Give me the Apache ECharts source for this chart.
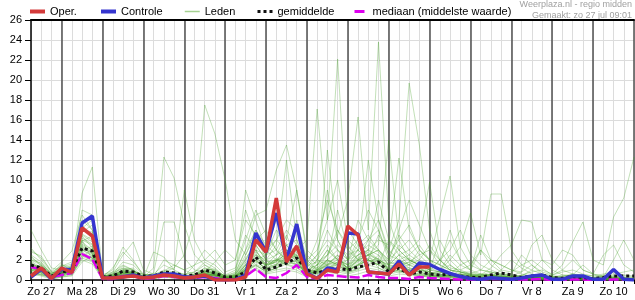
<!DOCTYPE html>
<html><head><meta charset="utf-8">
<script src="https://cdn.jsdelivr.net/npm/echarts@6/dist/echarts.min.js"></script>
<style>html,body{margin:0;padding:0;background:#fff}#c{width:635px;height:300px}</style>
</head><body><div id="c"></div>
<script>
const dayNames = ['Zo 27','Ma 28','Di 29','Wo 30','Do 31','Vr 1','Za 2','Zo 3','Ma 4','Di 5','Wo 6','Do 7','Vr 8','Za 9','Zo 10','Ma 11'];
const hours = ['00:00','06:00','12:00','18:00'];
const times = [];
for (let k = 1; k <= 60; k++) times.push(dayNames[Math.floor(k / 4)] + ' ' + hours[k % 4]);

const yTicks = {min: 0, max: 26, step: 2};

const oper = [0.4,1.2,0.15, 1.2,0.75,5.2,4.4, 0.2,0.2,0.3,0.4, 0.2,0.3,0.5,0.4, 0.2,0.3,0.5,0, 0,0,0.3,4.0, 2.8,8.2,1.8,3.4, 0.6,0.15,1.0,0.8, 5.4,4.5,0.8,0.7, 0.6,1.6,0.5,1.3, 1.3];
const controle = [0.3,1.1,0.1, 1.1,1.0,5.7,6.4, 0.2,0.2,0.3,0.5, 0.2,0.4,0.6,0.6, 0.3,0.3,0.4,0.05, 0,0.05,0.5,4.7, 2.8,6.7,2.0,5.6, 0.7,0.15,1.2,1.0, 4.7,4.6,0.8,0.7, 0.6,1.9,0.5,1.7, 1.55,1.05,0.65,0.35, 0.15,0.07,0.22,0.15, 0.07,0.2,0.4,0.5, 0.07,0.07,0.4,0.4, 0.07,0.07,1.05,0.07, 0];
const gemiddelde = [1.5,1.2,0.4, 0.8,1.0,3.2,2.9, 0.3,0.4,0.9,0.8, 0.4,0.4,0.8,0.7, 0.4,0.5,1.0,0.7, 0.3,0.3,0.8,2.3, 1.0,1.3,1.7,2.2, 1.0,0.7,1.0,1.2, 1.0,1.3,1.5,1.8, 0.8,1.2,0.6,0.8, 0.6,0.5,0.6,0.4, 0.27,0.23,0.5,0.7, 0.5,0.25,0.4,0.5, 0.25,0.17,0.35,0.25, 0.13,0.25,0.4,0.4, 0.4];
const mediaan = [1.3,1.1,0.3, 0.5,0.7,2.6,2.1, 0.1,0.1,0.4,0.4, 0.1,0.2,0.4,0.3, 0.2,0.2,0.3,0.2, 0.05,0.05,0.4,1.1, 0.3,0.2,0.7,1.5, 0.3,0.15,0.5,0.4, 0.3,0.25,0.5,0.3, 0.2,0.2,0.1,0.3, 0.2,0.15,0.1,0.05, 0.05,0.05,0.1,0.1, 0.05,0.05,0.05,0.1, 0,0,0.05,0.05, 0,0,0.05,0.05, 0.05];

const m01 = [5.0,3.0,1.2, 1.0,1.5,4.0,3.5, 0.5,0.8,1.5,1.0, 0.3,0.2,0.5,0.4, 0.3,0.5,1.0,0.8, 0.2,0.3,1.5,3.0, 1.5,2.5,3.0,1.8, 0.5,1.0,2.0,3.0, 1.5,2.0,2.5,1.2, 0.8,1.5,1.0,0.8, 0.5,0.6,0.4,0.3, 0.2,0.4,0.6,0.3, 0.2,0.4,0.3,0.2, 0.1,0.2,0.3,0.1, 0.1,0.2,0.3,0.2, 0.1];
const m02 = [3.2,2.0,0.8, 0.6,1.2,8.7,11.3, 0.4,0.5,1.0,0.7, 0.2,0.3,0.4,0.3, 0.2,0.3,0.6,0.4, 0.1,0.2,0.8,1.5, 0.8,1.2,2.0,2.5, 0.8,0.6,1.2,1.5, 0.8,1.0,1.8,2.2, 1.0,0.8,0.6,0.5, 0.4,0.3,0.2,0.2, 0.1,0.1,0.2,0.1, 0.1,0.2,0.1,0.1, 0.0,0.1,0.2,0.1, 0.1,0.1,0.2,0.1, 0.1];
const m03 = [1.5,1.2,0.3, 0.8,0.6,3.5,2.8, 0.2,0.3,0.6,0.5, 0.3,1.2,12.3,10.2, 5.5,2.5,1.5,0.8, 0.3,0.5,2.0,3.5, 2.0,1.5,2.5,2.0, 0.6,0.8,1.5,1.0, 0.8,1.2,1.5,2.0, 1.2,0.9,0.7,0.5, 0.4,0.3,0.5,0.3, 0.2,0.1,0.3,0.4, 0.2,0.1,0.2,0.3, 0.1,0.1,0.0,0.1, 0.0,0.1,0.1,0.2, 0.2];
const m04 = [1.0,0.8,0.5, 0.5,0.9,4.5,3.8, 0.3,0.6,1.2,0.9, 0.4,0.3,0.8,1.2, 2.5,6.0,17.5,14.6, 10.0,4.0,2.5,5.0, 3.0,2.0,1.5,1.2, 0.6,0.8,1.0,1.8, 1.0,1.5,2.0,1.5, 0.8,1.0,0.6,0.4, 0.3,0.5,0.4,0.2, 0.3,0.2,0.1,0.2, 0.1,0.2,0.3,0.2, 0.1,0.0,0.1,0.1, 0.1,0.0,0.1,0.1, 0.0];
const m05 = [2.0,1.5,0.4, 0.7,1.0,5.5,4.2, 0.1,0.2,0.8,0.6, 0.2,0.4,0.6,0.5, 0.3,0.4,1.2,0.9, 0.4,0.8,3.0,6.5, 7.0,11.0,13.5,9.0, 2.5,1.5,3.0,2.0, 1.2,2.5,3.5,2.8, 1.5,1.2,0.9,0.6, 0.5,0.4,0.3,0.6, 0.4,0.3,0.2,0.1, 0.1,0.1,0.2,0.3, 0.2,0.1,0.1,0.1, 0.0,0.1,0.0,0.1, 0.1];
const m06 = [1.2,0.9,0.2, 0.9,0.5,2.5,2.0, 0.2,0.4,0.7,0.4, 0.2,0.2,0.4,0.6, 0.4,0.3,0.8,0.7, 0.2,0.3,1.2,2.0, 1.0,2.0,1.8,3.0, 4.0,17.1,6.0,22.1, 5.0,3.5,2.5,3.0, 1.8,1.5,1.0,1.2, 0.6,0.8,0.5,0.4, 0.3,0.2,0.5,0.3, 0.2,0.3,0.2,0.1, 0.1,0.2,0.1,0.2, 0.1,0.1,0.2,0.1, 0.1];
const m07 = [0.8,0.6,0.3, 0.6,0.8,3.0,2.5, 0.3,0.2,0.5,0.8, 0.3,0.4,0.3,0.5, 0.2,0.5,0.7,0.5, 0.3,0.2,1.0,2.5, 1.5,1.8,3.5,2.2, 1.0,1.5,2.5,4.5, 8.0,16.3,5.0,23.8, 6.0,3.0,2.0,1.5, 1.0,0.8,0.5,0.6, 0.3,0.4,0.3,0.2, 0.2,0.1,0.2,0.2, 0.1,0.1,0.2,0.1, 0.1,0.0,0.1,0.2, 0.1];
const m08 = [1.8,1.0,0.6, 1.2,0.7,2.2,1.8, 0.2,0.5,0.9,0.6, 0.3,0.3,0.5,0.4, 0.3,0.4,0.9,0.6, 0.2,0.4,1.5,2.5, 2.0,1.0,2.5,3.5, 1.5,1.2,2.0,1.5, 2.0,2.5,3.0,4.0, 3.5,12.2,5.0,3.0, 2.0,1.5,1.0,0.8, 0.8,0.5,0.4,0.3, 0.3,0.2,0.2,0.3, 0.2,0.1,0.1,0.2, 0.1,0.1,0.1,0.1, 0.1];
const m09 = [0.9,1.4,0.5, 0.4,1.1,6.0,5.0, 0.4,0.3,1.0,1.2, 0.3,0.5,0.7,0.6, 0.4,0.6,1.0,1.1, 0.3,0.6,2.0,4.0, 2.5,3.0,2.0,1.5, 1.0,2.0,3.5,2.0, 1.5,3.0,2.0,4.5, 3.0,6.0,19.7,13.5, 5.0,2.0,1.0,0.8, 0.5,0.6,0.4,0.3, 0.2,0.4,0.3,0.2, 0.2,0.1,0.3,0.2, 0.1,0.2,0.1,0.1, 0.1];
const m10 = [2.5,1.8,0.5, 1.5,1.2,4.8,5.5, 0.3,0.6,1.4,1.0, 0.2,0.3,0.6,0.5, 0.3,0.2,0.5,0.4, 0.1,0.3,1.2,3.0, 1.2,1.5,3.0,2.5, 0.7,0.9,1.5,2.5, 1.0,1.5,2.5,2.0, 1.5,2.5,3.0,4.0, 9.8,3.0,1.5,0.8, 0.6,0.4,0.5,0.3, 0.2,0.1,0.3,0.2, 0.1,0.2,0.1,0.2, 0.1,0.1,0.1,0.2, 0.1];
const m11 = [1.4,1.1,0.4, 0.9,0.6,3.8,3.0, 0.2,0.3,0.7,0.5, 0.2,0.2,0.4,0.3, 0.2,0.3,0.6,0.5, 0.2,0.2,0.8,1.8, 1.2,2.2,1.5,2.0, 0.5,0.7,1.2,1.8, 1.2,2.0,1.5,2.5, 1.0,2.0,2.5,3.5, 2.0,6.3,10.4,3.3, 1.5,1.0,0.8,0.5, 0.3,0.2,0.3,0.2, 0.1,0.2,0.2,0.1, 0.1,0.1,0.0,0.1, 0.0];
const m12 = [1.0,0.7,0.3, 0.5,0.8,2.8,2.2, 0.1,0.2,0.5,0.4, 0.2,0.3,0.5,0.4, 0.3,0.4,0.7,0.5, 0.2,0.3,1.0,1.5, 0.8,1.2,1.8,1.5, 0.6,0.8,1.4,1.2, 0.9,1.5,2.0,1.5, 1.0,1.2,1.5,2.0, 1.5,1.0,2.0,3.3, 6.7,2.5,8.6,8.6, 3.0,1.5,1.0,0.6, 0.4,0.3,0.2,0.3, 0.2,0.1,0.2,0.1, 0.1];
const m13 = [1.6,1.3,0.2, 0.6,0.9,3.3,2.7, 0.2,0.3,0.8,0.7, 0.3,0.2,0.5,0.6, 0.3,0.3,0.9,0.7, 0.2,0.4,1.8,2.2, 1.5,1.8,2.0,2.8, 0.8,1.0,1.5,2.0, 1.2,1.8,2.5,3.0, 1.5,2.0,1.2,1.0, 0.8,0.5,0.6,0.4, 0.3,0.5,1.2,2.5, 3.5,6.0,5.8,2.0, 1.0,0.5,0.4,0.3, 0.2,0.2,0.1,0.2, 0.1];
const m14 = [0.7,0.5,0.2, 0.4,0.6,2.0,1.6, 0.1,0.2,0.4,0.3, 0.1,0.2,0.3,0.2, 0.2,0.2,0.5,0.4, 0.1,0.2,0.7,1.2, 0.7,1.0,1.2,1.0, 0.4,0.6,1.0,0.8, 0.6,0.9,1.2,1.0, 0.6,0.8,1.0,0.8, 0.5,0.4,0.3,0.3, 0.2,0.3,0.2,0.4, 0.3,0.5,0.8,1.0, 0.6,1.5,3.8,5.8, 2.0,1.5,6.3,8.2, 12.3];
const m15 = [3.0,2.2,0.9, 1.8,2.9,6.5,5.0, 0.5,1.0,3.3,2.0, 0.4,0.6,1.5,1.0, 0.5,0.8,1.8,1.2, 0.3,0.6,2.5,4.5, 3.0,4.0,3.0,2.5, 1.2,2.5,4.0,3.0, 2.0,3.5,4.5,3.0, 2.0,3.0,4.0,2.5, 1.5,1.0,2.5,1.5, 1.0,3.0,2.0,1.0, 0.8,1.5,2.0,1.2, 0.5,0.8,1.0,0.6, 0.4,0.6,0.8,0.5, 0.4];
const m16 = [0.5,0.9,0.1, 0.3,0.5,2.2,3.2, 0.2,0.8,2.5,3.8, 1.0,0.6,0.8,0.5, 0.3,0.2,0.4,0.6, 0.5,1.0,4.0,7.0, 4.5,3.0,5.0,3.5, 1.5,4.0,8.0,5.0, 3.0,4.0,7.0,5.0, 2.5,4.0,5.5,3.0, 2.0,1.5,1.0,0.8, 0.6,1.0,2.0,1.5, 1.0,0.6,0.4,0.3, 0.2,0.4,0.6,0.3, 0.2,0.3,0.2,0.1, 0.1];
const m17 = [2.2,1.6,0.6, 1.0,1.3,7.0,6.5, 0.4,0.4,1.1,0.8, 0.2,0.4,0.9,1.5, 1.0,0.5,0.8,0.6, 0.2,0.5,9.0,6.0, 3.0,6.0,4.0,9.0, 3.0,2.0,1.5,2.5, 1.0,2.0,4.0,6.0, 3.0,2.0,1.5,1.0, 0.8,2.0,4.0,2.0, 1.0,0.6,0.5,0.4, 0.3,0.2,0.4,0.2, 0.1,0.2,0.1,0.2, 0.1,0.2,0.1,0.1, 0.1];
const m18 = [1.1,0.8,0.3, 0.8,0.7,3.9,4.4, 0.3,0.5,1.0,0.8, 0.3,0.4,0.8,0.6, 0.4,1.5,2.0,3.0, 1.5,2.0,7.0,4.0, 5.0,3.0,2.0,6.0, 2.0,1.0,13.0,4.0, 2.0,3.0,2.0,1.5, 4.0,2.5,1.5,3.0, 2.0,1.0,1.5,0.8, 0.5,0.4,0.3,1.0, 2.0,1.2,0.6,0.4, 0.3,0.2,0.1,0.2, 0.1,0.1,0.2,0.1, 0.1];
const m19 = [1.7,1.0,0.4, 1.1,0.8,4.2,3.6, 0.2,0.3,0.6,0.5, 0.2,0.3,0.5,0.4, 0.2,0.4,0.6,0.5, 0.1,0.2,1.0,2.0, 2.5,4.0,6.0,5.0, 2.0,3.0,6.0,10.0, 4.0,3.0,12.0,6.0, 2.5,2.0,1.5,1.2, 0.8,0.5,0.4,0.6, 0.5,0.3,0.2,0.3, 0.2,0.1,0.2,0.1, 0.1,0.1,0.2,0.1, 0.0,0.1,0.1,0.1, 0.1];
const m20 = [0.4,0.6,0.2, 0.6,1.5,4.0,2.0, 0.3,0.6,1.8,1.5, 0.5,0.5,1.0,0.8, 0.6,0.8,1.5,1.0, 0.4,0.7,3.0,5.0, 3.5,2.5,4.5,2.0, 1.0,1.5,3.0,2.0, 1.5,2.5,3.0,2.5, 1.5,2.5,2.0,1.5, 1.0,0.8,0.6,1.5, 2.0,1.0,0.8,0.6, 0.4,0.8,1.5,0.8, 0.5,1.0,2.0,1.0, 0.6,0.4,0.6,0.8, 1.0];
const m21 = [1.3,1.5,0.7, 0.9,1.1,5.0,4.8, 0.4,0.7,1.2,1.0, 0.3,0.4,0.6,0.5, 0.3,0.6,1.2,0.9, 0.3,0.5,2.2,3.5, 2.0,2.5,3.5,4.0, 1.0,1.2,2.5,3.5, 2.5,3.0,4.0,5.0, 2.0,5.0,8.0,5.5, 3.0,2.0,1.0,0.6, 0.5,0.4,0.6,0.4, 0.3,0.4,0.3,0.2, 0.2,0.3,0.2,0.2, 0.1,0.2,0.2,0.1, 0.1];
const m22 = [2.8,2.4,0.8, 1.4,1.8,5.2,6.0, 0.2,0.4,0.9,0.6, 0.2,0.3,0.6,0.4, 0.2,0.3,0.7,0.6, 0.2,0.3,1.2,2.8, 1.8,2.0,3.0,2.2, 0.8,1.0,1.8,2.2, 1.5,2.2,2.8,1.8, 1.2,1.5,1.8,1.2, 0.6,0.9,0.6,0.4, 0.4,0.2,0.4,0.5, 0.6,0.3,0.2,0.4, 0.3,0.2,0.6,0.4, 0.2,0.5,0.4,0.2, 0.2];
const m23 = [0.6,0.4,0.1, 0.3,0.4,1.8,2.4, 0.1,0.2,0.4,0.3, 0.1,0.1,0.3,0.2, 0.1,0.2,0.4,0.3, 0.1,0.1,0.6,1.0, 0.6,0.8,1.0,0.8, 0.3,0.4,0.8,0.6, 0.4,0.6,0.9,0.7, 0.4,0.6,0.5,0.4, 0.3,0.2,0.2,0.2, 0.1,0.1,0.1,0.1, 0.1,0.1,0.1,0.1, 0.0,0.1,0.1,0.0, 0.0,0.1,0.0,0.0, 0.0];
const m24 = [1.9,1.2,0.5, 0.7,1.4,3.6,3.0, 0.3,1.2,2.8,1.8, 0.6,0.4,2.0,1.5, 1.0,1.5,3.0,2.0, 0.8,1.2,4.5,3.0, 2.5,5.0,3.5,2.0, 1.5,1.8,2.5,5.0, 3.5,2.0,3.0,8.0, 4.0,3.0,2.0,1.5, 1.0,4.0,2.0,1.0, 1.5,3.0,1.5,0.8, 0.6,2.5,1.5,0.6, 0.4,0.3,0.5,1.5, 0.6,0.3,0.2,0.4, 0.3];
const m25 = [1.0,1.1,0.4, 0.5,0.9,2.9,3.4, 0.3,0.3,0.7,0.9, 0.4,0.7,5.8,5.8, 2.2,1.0,0.8,0.7, 0.3,0.4,1.3,2.3, 1.4,1.9,2.6,2.1, 0.7,0.9,1.7,1.6, 1.1,1.6,2.2,1.9, 1.1,1.4,1.2,1.0, 0.6,0.5,0.4,0.3, 0.3,0.2,0.3,0.2, 0.2,0.2,0.2,0.2, 0.1,0.1,0.1,0.1, 0.1,0.1,0.1,0.1, 0.1];
const m26 = [2.4,1.4,0.6, 1.6,0.9,4.6,4.0, 0.2,0.4,0.8,0.6, 0.2,2.8,2.3,1.0, 9.0,4.0,2.0,1.5, 0.5,0.4,1.0,2.0, 1.5,2.0,2.5,1.5, 0.8,1.0,2.0,1.5, 1.0,1.5,2.0,1.8, 1.0,1.5,1.0,0.8, 0.5,0.4,0.3,0.3, 0.2,0.2,0.3,0.2, 0.1,0.2,0.1,0.1, 0.1,0.1,0.1,0.1, 0.1,0.1,0.1,0.1, 0.1];
const m27 = [1.4,0.7,0.2, 0.8,1.0,3.2,2.6, 0.2,0.2,0.5,0.4, 0.2,0.2,0.4,0.3, 0.2,0.2,0.5,0.4, 0.1,0.2,0.9,1.6, 1.0,1.4,1.8,1.6, 0.6,2.0,5.0,3.0, 2.0,4.0,3.0,2.0, 1.5,3.5,2.5,1.8, 1.2,0.8,0.6,0.4, 0.3,0.6,0.4,0.3, 0.4,0.3,0.2,0.4, 0.3,0.5,0.4,0.3, 0.2,0.4,0.3,0.2, 0.1];
const m28 = [0.9,0.5,0.3, 0.5,0.6,2.4,1.9, 0.2,0.3,0.6,0.4, 0.2,0.3,0.4,0.3, 0.2,0.3,0.5,0.4, 0.2,0.3,0.9,1.4, 0.9,1.2,1.6,1.3, 0.5,0.7,1.2,1.0, 0.7,1.1,1.5,1.2, 0.7,1.0,0.8,0.6, 0.4,0.3,0.3,0.2, 0.2,0.3,0.2,0.1, 0.1,0.2,0.1,0.1, 0.1,0.1,0.1,0.1, 0.1,0.1,0.1,0.0, 0.0];
const m29 = [1.5,1.3,0.3, 1.3,1.6,4.4,3.2, 0.3,0.4,0.9,0.7, 0.3,0.2,0.5,0.6, 0.3,0.4,0.8,1.8, 3.0,2.0,6.0,4.5, 2.0,3.5,12.0,4.0, 1.5,2.5,9.0,4.0, 2.0,6.0,4.0,3.0, 2.0,4.5,3.0,2.0, 3.5,2.0,1.2,1.0, 0.6,0.5,0.8,0.5, 0.4,0.3,0.2,0.3, 0.3,0.2,0.2,0.3, 0.2,0.3,0.4,0.2, 0.2];
const m30 = [0.3,0.8,0.2, 0.4,0.7,2.6,2.2, 0.2,0.3,0.6,0.8, 0.6,0.4,0.5,0.4, 0.3,0.3,0.6,0.5, 0.2,0.3,1.5,2.0, 1.0,1.5,2.0,1.8, 0.5,1.5,2.0,7.0, 3.0,2.0,2.5,3.5, 14.0,4.0,2.0,1.5, 0.8,0.6,0.4,0.5, 0.4,0.3,0.2,0.2, 0.1,0.2,0.2,0.1, 0.1,0.2,0.3,0.2, 0.1,0.1,0.2,0.1, 0.1];
const m31 = [1.2,0.9,0.4, 0.7,0.8,3.0,2.4, 0.2,0.3,0.7,0.5, 0.2,0.3,0.5,0.4, 0.3,0.3,0.6,0.5, 0.2,0.3,1.1,1.9, 1.2,1.6,2.2,1.8, 0.6,0.9,1.6,1.4, 1.0,1.4,2.0,1.6, 1.0,1.3,1.8,2.5, 3.0,1.5,5.0,2.0, 1.0,4.5,2.0,1.5, 1.0,0.8,3.5,4.5, 2.0,1.0,0.6,0.5, 0.4,0.3,2.0,4.0, 2.0];
const m32 = [2.0,1.7,0.7, 1.1,1.2,3.4,2.6, 0.3,0.5,0.8,0.6, 0.2,0.3,0.7,0.5, 0.3,0.4,0.9,0.8, 0.3,0.4,1.6,2.6, 1.6,2.0,2.2,2.4, 0.8,1.1,1.9,1.7, 1.3,1.9,2.6,2.1, 1.3,1.7,2.2,1.5, 1.0,2.0,3.0,5.0, 2.5,1.5,1.0,0.6, 0.5,0.4,1.0,2.0, 1.5,3.0,2.5,1.0, 0.6,2.5,3.5,1.5, 0.8];
const leden = [m01,m02,m03,m04,m05,m06,m07,m08,m09,m10,m11,m12,m13,m14,m15,m16,m17,m18,m19,m20,m21,m22,m23,m24,m25,m26,m27,m28,m29,m30,m31,m32];

const FONT = '"Liberation Sans", Arial, sans-serif';
const GREEN = 'rgba(70,160,40,0.33)';
const series = leden.map(d => ({
  name: 'Leden', type: 'line', data: d, symbol: 'none', silent: true, z: 1,
  color: 'rgb(160,210,140)', lineStyle: {color: GREEN, width: 1}
}));
series.push({name: 'mediaan (middelste waarde)', type: 'line', data: mediaan, symbol: 'none', z: 3,
  color: '#dd00ee', lineStyle: {color: '#dd00ee', width: 2.5, type: [10, 3]}});
series.push({name: 'gemiddelde', type: 'line', data: gemiddelde, symbol: 'none', z: 4,
  color: '#111', lineStyle: {color: '#111', width: 3, type: [3, 3]}});
series.push({name: 'Controle', type: 'line', data: controle, symbol: 'none', z: 5,
  color: '#3535cf', lineStyle: {color: '#3535cf', width: 3.5}});
series.push({name: 'Oper.', type: 'line', data: oper, symbol: 'none', z: 6,
  color: '#d33a3a', lineStyle: {color: '#d33a3a', width: 3.5}});

function leg(name, left, ls, w) {
  return {data: [name], left: left, top: 6, itemWidth: w || 15, itemHeight: 10, itemGap: 4,
    selectedMode: false, padding: 0,
    itemStyle: {opacity: 0, borderWidth: 0},
    lineStyle: ls,
    textStyle: {fontSize: 11, color: '#000', fontFamily: FONT}};
}

const chart = echarts.init(document.getElementById('c'));
chart.setOption({
  animation: false,
  backgroundColor: '#fff',
  textStyle: {fontFamily: FONT},
  grid: {left: 31, right: 1, top: 20, bottom: 20},
  legend: [
    leg('Oper.', 28, {width: 4}),
    leg('Controle', 99, {width: 4}),
    leg('Leden', 184, {width: 1.5, color: 'rgb(165,210,145)', opacity: 1}),
    leg('gemiddelde', 256, {width: 3}),
    leg('mediaan (middelste waarde)', 353, {width: 3}, 13)
  ],
  graphic: [
    {type: 'text', right: 3, top: 0, style: {text: 'Weerplaza.nl - regio midden', fill: '#a0a0a0', fontSize: 9, fontFamily: FONT}},
    {type: 'text', right: 3, top: 11, style: {text: 'Gemaakt: zo 27 jul 09:01', fill: '#a0a0a0', fontSize: 9, fontFamily: FONT}}
  ],
  xAxis: [
    {type: 'category', data: times, boundaryGap: false, position: 'bottom',
      axisLine: {lineStyle: {color: '#000', width: 1.5}},
      axisTick: {show: true, interval: 0, length: 4, lineStyle: {color: '#000'}},
      axisLabel: {interval: (i, v) => v.endsWith('12:00'), formatter: v => v.slice(0, -6),
        fontSize: 11, color: '#000', margin: 6, fontFamily: FONT},
      splitLine: {show: true, interval: 0, lineStyle: {color: '#dcdcdc', width: 1}}},
    {type: 'category', data: times, boundaryGap: false, position: 'top',
      axisLine: {show: true, lineStyle: {color: '#000', width: 2}},
      axisTick: {show: false}, axisLabel: {show: false},
      splitLine: {show: true, interval: (i, v) => v.endsWith('00:00'), lineStyle: {color: '#505050', width: 1.5}}}
  ],
  yAxis: {type: 'value', min: yTicks.min, max: yTicks.max, interval: yTicks.step,
    axisLine: {show: true, lineStyle: {color: '#000', width: 1.5}},
    axisTick: {show: true, length: 6, lineStyle: {color: '#000'}},
    axisLabel: {fontSize: 11, color: '#000', margin: 9, fontFamily: FONT},
    splitLine: {lineStyle: {color: '#dcdcdc', width: 1}}},
  series: series
});
</script></body></html>
